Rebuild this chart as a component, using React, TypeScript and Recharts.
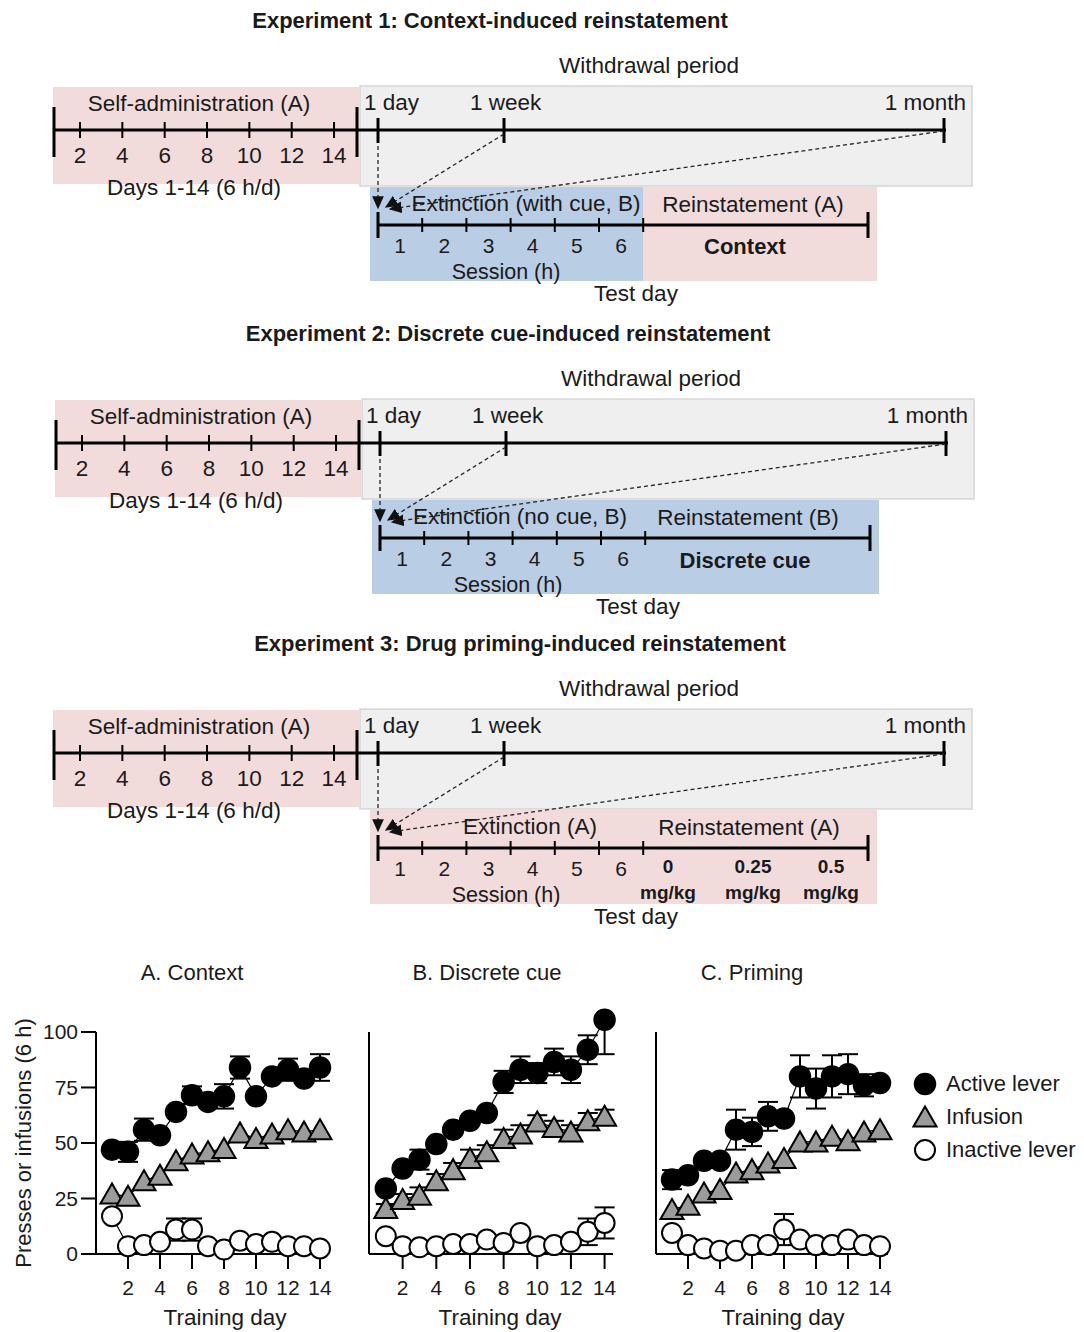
import React from 'react';
import { ComposedChart, Line, XAxis, YAxis, ErrorBar, ReferenceLine, Legend } from 'recharts';

const FONT = '"Liberation Sans", Arial, Helvetica, sans-serif';
const INK = '#1a1a1a';

// ---------- data ----------
const days = [1, 2, 3, 4, 5, 6, 7, 8, 9, 10, 11, 12, 13, 14];
const dayTicks = [2, 4, 6, 8, 10, 12, 14];
const yTicks = [0, 25, 50, 75, 100];

type Err = number | [number, number] | null;

// A. Context
const contextActive = [47, 46, 56, 53.5, 64, 71.5, 68.5, 71, 84, 71, 80, 83, 79, 84];
const contextActiveErr: Err[] = [null, 4.5, 5, null, null, 4, null, 5.5, 5, null, null, 5, null, 6];
const contextInfusion = [27, 26, 33, 35.5, 42, 45, 46, 47.5, 54.5, 52, 54, 56, 55, 56];
const contextInfusionErr: Err[] = [null, null, null, null, null, null, null, null, null, null, null, null, null, null];
const contextInactive = [17, 3.5, 4, 5.5, 11, 11, 3.5, 2, 6, 4.5, 5.5, 3.5, 3.5, 2.5];
const contextInactiveErr: Err[] = [null, null, null, null, 5, 5, null, null, null, null, null, null, null, null];

// B. Discrete cue
const cueActive = [29.5, 38.5, 42.5, 49.5, 56, 60, 63.5, 77.5, 83, 81.5, 86.5, 83, 92, 105.5];
const cueActiveErr: Err[] = [null, null, 4.5, null, null, null, null, 5, 6, 4.5, 6, 6, 6.5, [15.5, 0]];
const cueInfusion = [20.5, 24.5, 26.5, 33, 38, 43, 46, 52, 54, 59.5, 57, 55, 60, 62];
const cueInfusionErr: Err[] = [2, 2.5, 3.5, 3, 3, 4, 3, 4, 4, 3, 3, 3, 3.5, 3];
const cueInactive = [8, 3.5, 3, 3.5, 4.5, 4.5, 6.5, 5, 9.5, 3.5, 4, 5.5, 10, 14];
const cueInactiveErr: Err[] = [null, null, null, null, null, null, null, null, null, null, null, null, 6, 7];

// C. Priming
const primingActive = [33.5, 35.5, 42, 42, 56, 55, 62, 61, 80, 74.5, 80, 81, 76, 77];
const primingActiveErr: Err[] = [4.3, null, null, null, 9, 6.4, 6.5, null, 9.5, 9, 9.5, 9, 5, null];
const primingInfusion = [20, 22, 27.5, 29, 36.5, 38, 41, 43, 50.5, 50.5, 53, 51, 55, 56];
const primingInfusionErr: Err[] = [null, null, null, null, null, null, null, null, null, null, null, null, null, null];
const primingInactive = [9.5, 4, 2.5, 1.5, 1.5, 4, 4, 11, 6.5, 4, 4, 6.5, 4, 3.5];
const primingInactiveErr: Err[] = [null, null, null, null, null, null, null, 7, null, null, null, null, null, null];

const seriesNames = { active: 'Active lever', infusion: 'Infusion', inactive: 'Inactive lever' };
const legendOrder: Array<'active' | 'infusion' | 'inactive'> = ['active', 'infusion', 'inactive'];

// schematic labels
const selfAdminLabels = ['2', '4', '6', '8', '10', '12', '14'];
const sessionLabels = ['1', '2', '3', '4', '5', '6'];
const doseLabels = ['0', '0.25', '0.5'];

// ---------- helpers ----------
const toPair = (e: Err) => (e == null ? undefined : Array.isArray(e) ? e : [e, e]);

function buildRows(a: number[], ae: Err[], f: number[], fe: Err[], n: number[], ne: Err[]) {
  return days.map((d, i) => ({
    day: d,
    active: a[i],
    activeErr: toPair(ae[i]),
    infusion: f[i],
    infusionErr: toPair(fe[i]),
    inactive: n[i],
    inactiveErr: toPair(ne[i]),
  }));
}

const rowsA = buildRows(contextActive, contextActiveErr, contextInfusion, contextInfusionErr, contextInactive, contextInactiveErr);
const rowsB = buildRows(cueActive, cueActiveErr, cueInfusion, cueInfusionErr, cueInactive, cueInactiveErr);
const rowsC = buildRows(primingActive, primingActiveErr, primingInfusion, primingInfusionErr, primingInactive, primingInactiveErr);

type Kind = 'active' | 'infusion' | 'inactive';

function MarkerShape({ kind, cx, cy }: { kind: Kind; cx: number; cy: number }) {
  if (kind === 'active') return <circle cx={cx} cy={cy} r={10.5} fill="#000" stroke="#000" strokeWidth={1.5} />;
  if (kind === 'inactive') return <circle cx={cx} cy={cy} r={10} fill="#fff" stroke="#000" strokeWidth={2} />;
  return (
    <polygon
      points={`${cx},${cy - 10.5} ${cx + 11.5},${cy + 9.5} ${cx - 11.5},${cy + 9.5}`}
      fill="#9b9b9b"
      stroke="#000"
      strokeWidth={2}
      strokeLinejoin="miter"
    />
  );
}

const makeDot = (kind: Kind) => (props: any) => {
  const { cx, cy, index } = props;
  if (cx == null || cy == null) return <g key={`${kind}-${index}`} />;
  return <MarkerShape key={`${kind}-${index}`} kind={kind} cx={cx} cy={cy} />;
};

function LegendContent() {
  return (
    <div style={{ width: 196, paddingLeft: 24, boxSizing: 'border-box', fontFamily: FONT }}>
      {legendOrder.map((k) => (
        <div key={k} style={{ height: 33, display: 'flex', alignItems: 'center' }}>
          <svg width={26} height={26} style={{ display: 'block' }}>
            <MarkerShape kind={k} cx={13} cy={13} />
          </svg>
          <span style={{ marginLeft: 8, fontSize: 22, color: INK, whiteSpace: 'nowrap' }}>{seriesNames[k]}</span>
        </div>
      ))}
    </div>
  );
}

function Panel({
  rows,
  left,
  width,
  marginLeft,
  marginRight,
  showYLabels,
  legend,
  labelDx,
}: {
  rows: any[];
  left: number;
  width: number;
  marginLeft: number;
  marginRight: number;
  showYLabels: boolean;
  legend?: boolean;
  labelDx: number;
}) {
  const errProps = { width: 10, stroke: '#000', strokeWidth: 2, direction: 'y' as const };
  return (
    <div style={{ position: 'absolute', left, top: 994 }}>
      <ComposedChart width={width} height={338} data={rows} margin={{ top: 10, right: marginRight, bottom: 0, left: marginLeft }}>
        <XAxis
          dataKey="day"
          type="number"
          domain={[0, 14.5]}
          ticks={dayTicks}
          interval={0}
          height={78}
          tickSize={15}
          tickMargin={11}
          axisLine={{ stroke: '#000', strokeWidth: 2 }}
          tickLine={{ stroke: '#000', strokeWidth: 2 }}
          tick={{ fontSize: 21, fill: INK, fontFamily: FONT }}
          label={{ value: 'Training day', position: 'insideBottom', offset: 7, dx: labelDx, fontSize: 22.5, fill: INK, fontFamily: FONT }}
        />
        <YAxis
          type="number"
          domain={[0, 112.6]}
          ticks={yTicks}
          interval={0}
          width={56}
          tickSize={15}
          tickMargin={3}
          axisLine={false}
          tickLine={{ stroke: '#000', strokeWidth: 2 }}
          tick={showYLabels ? { fontSize: 21, fill: INK, fontFamily: FONT } : false}
        />
        <ReferenceLine segment={[{ x: 0, y: 0 }, { x: 0, y: 100 }]} stroke="#000" strokeWidth={2} ifOverflow="visible" />
        <Line dataKey="inactive" name={seriesNames.inactive} type="linear" stroke="#000" strokeWidth={1.2} dot={makeDot('inactive')} activeDot={false} isAnimationActive={false}>
          <ErrorBar dataKey="inactiveErr" {...errProps} />
        </Line>
        <Line dataKey="infusion" name={seriesNames.infusion} type="linear" stroke="#000" strokeWidth={1.2} dot={makeDot('infusion')} activeDot={false} isAnimationActive={false}>
          <ErrorBar dataKey="infusionErr" {...errProps} />
        </Line>
        <Line dataKey="active" name={seriesNames.active} type="linear" stroke="#000" strokeWidth={1.2} dot={makeDot('active')} activeDot={false} isAnimationActive={false}>
          <ErrorBar dataKey="activeErr" {...errProps} />
        </Line>
        {legend && (
          <Legend layout="vertical" align="right" verticalAlign="middle" content={<LegendContent />} wrapperStyle={{ top: 73 }} />
        )}
      </ComposedChart>
    </div>
  );
}

// ---------- schematic ----------
const PINK = '#f2dcdb';
const GREY = '#efefef';
const BLUE = '#b9cde5';

function T({ x, y, children, anchor = 'middle', bold = false, size = 22.5 }: any) {
  return (
    <text x={x} y={y} textAnchor={anchor} fontSize={size} fontWeight={bold ? 'bold' : 'normal'} fill={INK} fontFamily={FONT}>
      {children}
    </text>
  );
}

function Experiment({
  dx,
  dy,
  title,
  titleX,
  extText,
  extX,
  reinText,
  reinX,
  leftFill,
  rightFill,
  right,
}: any) {
  const saX = (d: number) => 80 + (d - 2) * 21.17;
  const sX = (h: number) => 378 + h * 44.2;
  return (
    <g transform={`translate(${dx},${dy})`}>
      <T x={titleX} y={28} bold size={22}>{title}</T>
      <T x={649} y={73}>Withdrawal period</T>
      <rect x={360} y={86} width={612} height={100} fill={GREY} stroke="#d6d6d6" strokeWidth={1.5} />
      <rect x={53} y={87} width={307} height={97} fill={PINK} />
      <rect x={370} y={187} width={273} height={94} fill={leftFill} />
      <rect x={643} y={187} width={234} height={94} fill={rightFill} />
      {/* main timeline */}
      <line x1={53} y1={130} x2={946} y2={130} stroke="#000" strokeWidth={3} />
      <line x1={54} y1={107} x2={54} y2={157} stroke="#000" strokeWidth={3} />
      <line x1={357} y1={107} x2={357} y2={157} stroke="#000" strokeWidth={3} />
      {selfAdminLabels.map((l) => (
        <g key={l}>
          <line x1={saX(+l)} y1={122} x2={saX(+l)} y2={138} stroke="#000" strokeWidth={2} />
          <T x={saX(+l)} y={163}>{l}</T>
        </g>
      ))}
      <T x={199} y={111}>Self-administration (A)</T>
      <T x={194} y={195}>Days 1-14 (6 h/d)</T>
      {[378, 504, 944].map((x) => (
        <line key={x} x1={x} y1={118} x2={x} y2={143} stroke="#000" strokeWidth={3} />
      ))}
      <T x={364} y={110} anchor="start">1 day</T>
      <T x={470} y={110} anchor="start">1 week</T>
      <T x={966} y={110} anchor="end">1 month</T>
      {/* arrows */}
      <line x1={378} y1={146} x2={378} y2={208} stroke="#222" strokeWidth={1.3} strokeDasharray="4 3" markerEnd="url(#ah)" />
      <line x1={504} y1={134} x2={386} y2={207} stroke="#222" strokeWidth={1.3} strokeDasharray="4 3" markerEnd="url(#ah)" />
      <line x1={944} y1={131} x2={390} y2={209} stroke="#222" strokeWidth={1.3} strokeDasharray="4 3" markerEnd="url(#ah)" />
      {/* test day timeline */}
      <line x1={378} y1={225} x2={868} y2={225} stroke="#000" strokeWidth={3} />
      <line x1={378} y1={212} x2={378} y2={238} stroke="#000" strokeWidth={3} />
      <line x1={868} y1={212} x2={868} y2={238} stroke="#000" strokeWidth={3} />
      {sessionLabels.map((l) => (
        <g key={l}>
          <line x1={sX(+l)} y1={218} x2={sX(+l)} y2={232} stroke="#000" strokeWidth={2} />
          <T x={sX(+l - 0.5)} y={253} size={21}>{l}</T>
        </g>
      ))}
      <T x={extX} y={211}>{extText}</T>
      <T x={reinX} y={212}>{reinText}</T>
      {right}
      <T x={506} y={279} size={21.5}>Session (h)</T>
      <T x={636} y={301}>Test day</T>
    </g>
  );
}

function Schematic() {
  const doseX = [668, 753, 831];
  return (
    <svg width={1084} height={940} style={{ position: 'absolute', left: 0, top: 0 }}>
      <defs>
        <marker id="ah" viewBox="0 0 10 10" refX="9" refY="5" markerWidth="13" markerHeight="13" markerUnits="userSpaceOnUse" orient="auto">
          <path d="M0,0.5 L10,5 L0,9.5 z" fill="#111" />
        </marker>
      </defs>
      <Experiment
        dx={0}
        dy={0}
        title="Experiment 1: Context-induced reinstatement"
        titleX={490}
        extText="Extinction (with cue, B)"
        extX={526}
        reinText="Reinstatement (A)"
        reinX={753}
        leftFill={BLUE}
        rightFill={PINK}
        right={<T x={745} y={254} bold size={22}>Context</T>}
      />
      <Experiment
        dx={2}
        dy={313}
        title="Experiment 2: Discrete cue-induced reinstatement"
        titleX={506}
        extText="Extinction (no cue, B)"
        extX={518}
        reinText="Reinstatement (B)"
        reinX={746}
        leftFill={BLUE}
        rightFill={BLUE}
        right={<T x={743} y={255} bold size={22}>Discrete cue</T>}
      />
      <Experiment
        dx={0}
        dy={623}
        title="Experiment 3: Drug priming-induced reinstatement"
        titleX={520}
        extText="Extinction (A)"
        extX={530}
        reinText="Reinstatement (A)"
        reinX={749}
        leftFill={PINK}
        rightFill={PINK}
        right={
          <g>
            {doseLabels.map((d, i) => (
              <g key={d}>
                <T x={doseX[i]} y={250} bold size={19}>{d}</T>
                <T x={doseX[i]} y={276} bold size={19}>mg/kg</T>
              </g>
            ))}
          </g>
        }
      />
    </svg>
  );
}

function Labels() {
  return (
    <svg width={1084} height={1332} style={{ position: 'absolute', left: 0, top: 0, pointerEvents: 'none' }}>
      <T x={192} y={980} size={22}>A. Context</T>
      <T x={487} y={980} size={22}>B. Discrete cue</T>
      <T x={752} y={980} size={22}>C. Priming</T>
      <text x={0} y={0} transform="translate(31,1143) rotate(-90)" textAnchor="middle" fontSize={22} fill={INK} fontFamily={FONT}>
        Presses or infusions (6 h)
      </text>
    </svg>
  );
}

export default function App() {
  return (
    <div style={{ position: 'relative', width: 1084, height: 1332, background: '#fff', fontFamily: FONT, overflow: 'hidden' }}>
      <style>{'body{margin:0;}'}</style>
      <Schematic />
      <Labels />
      <Panel rows={rowsA} left={0} width={338} marginLeft={40} marginRight={10} showYLabels labelDx={13} />
      <Panel rows={rowsB} left={313} width={310} marginLeft={0} marginRight={10} showYLabels={false} labelDx={9} />
      <Panel rows={rowsC} left={600} width={484} marginLeft={0} marginRight={0} showYLabels={false} legend labelDx={11} />
    </div>
  );
}
